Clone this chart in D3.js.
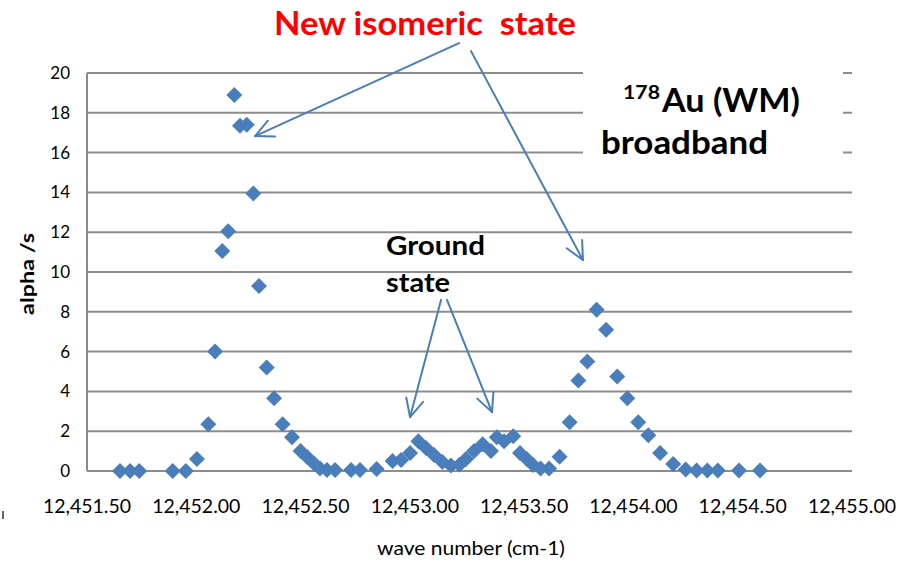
<!DOCTYPE html>
<html>
<head>
<meta charset="utf-8">
<script src="https://cdn.jsdelivr.net/npm/d3@7"></script>
<style>
  html, body { margin: 0; padding: 0; background: #fff; }
  svg { display: block; font-family: Lato, "Open Sans", sans-serif; }
  .keep { white-space: pre; }
</style>
</head>
<body>
<svg id="chart" width="900" height="561"></svg>
<script>
// Wave number scan of 178Au (cm-1) and measured alpha rate (alpha/s)
const waveNumbers = [
  12451.651, 12451.697, 12451.739, 12451.892, 12451.952, 12452.003, 12452.055, 12452.086,
  12452.119, 12452.146, 12452.174, 12452.200, 12452.231, 12452.261, 12452.287, 12452.322,
  12452.356, 12452.395, 12452.438, 12452.477, 12452.507, 12452.541, 12452.566, 12452.598,
  12452.635, 12452.708, 12452.749, 12452.825, 12452.898, 12452.937, 12452.978, 12453.016,
  12453.051, 12453.088, 12453.126, 12453.165, 12453.204, 12453.234, 12453.271, 12453.310,
  12453.348, 12453.375, 12453.408, 12453.450, 12453.481, 12453.512, 12453.541, 12453.575,
  12453.614, 12453.662, 12453.708, 12453.748, 12453.789, 12453.832, 12453.875, 12453.926,
  12453.972, 12454.022, 12454.068, 12454.122, 12454.182, 12454.239, 12454.289, 12454.338,
  12454.386, 12454.483, 12454.579
];
const alphaRates = [
  0.0, 0.0, 0.0, 0.0, 0.0, 0.6, 2.35, 6.0,
  11.05, 12.05, 18.9, 17.35, 17.4, 13.95, 9.3, 5.2,
  3.65, 2.35, 1.7, 1.0, 0.7, 0.35, 0.12, 0.05,
  0.05, 0.05, 0.05, 0.1, 0.5, 0.55, 0.9, 1.5,
  1.15, 0.8, 0.45, 0.28, 0.32, 0.6, 1.0, 1.35,
  1.0, 1.7, 1.5, 1.75, 0.9, 0.6, 0.3, 0.12,
  0.12, 0.72, 2.45, 4.55, 5.5, 8.1, 7.1, 4.75,
  3.65, 2.45, 1.8, 0.9, 0.35, 0.08, 0.03, 0.03,
  0.03, 0.03, 0.03
];
const xTicks = [12451.5, 12452.0, 12452.5, 12453.0, 12453.5, 12454.0, 12454.5, 12455.0];
const yTicks = [0, 2, 4, 6, 8, 10, 12, 14, 16, 18, 20];

// Annotation arrows, given in data units: [fromWave, fromRate, toWave, toRate]
const isomerArrows = [
  [12453.202, 21.5, 12452.269, 16.83],
  [12453.257, 21.1, 12453.769, 10.6]
];
const groundArrows = [
  [12453.120, 8.6, 12452.978, 2.71],
  [12453.147, 8.6, 12453.353, 2.96]
];

const svg = d3.select("#chart");
const x = d3.scaleLinear().domain([12451.5, 12455]).range([87, 852]);
const y = d3.scaleLinear().domain([0, 20]).range([471, 73]);

const gridColor = "#8c8c8c";
const markColor = "#4a7ebb";
const fmt = d3.format(",.2f");

// horizontal gridlines (the zero line doubles as the x axis)
svg.append("g")
  .selectAll("line")
  .data(yTicks)
  .join("line")
  .attr("x1", x.range()[0]).attr("x2", x.range()[1])
  .attr("y1", d => y(d)).attr("y2", d => y(d))
  .attr("stroke", gridColor).attr("stroke-width", 2);

// vertical axis line
svg.append("line")
  .attr("x1", x.range()[0]).attr("x2", x.range()[0])
  .attr("y1", y(0)).attr("y2", y(20))
  .attr("stroke", gridColor).attr("stroke-width", 2);

// y tick labels
svg.append("g")
  .selectAll("text")
  .data(yTicks)
  .join("text")
  .attr("x", 70).attr("y", d => y(d))
  .attr("dy", "0.35em")
  .attr("text-anchor", "end")
  .attr("font-size", 17)
  .attr("fill", "#000")
  .text(d => d);

// x tick labels
svg.append("g")
  .selectAll("text")
  .data(xTicks)
  .join("text")
  .attr("x", d => x(d)).attr("y", 513)
  .attr("text-anchor", "middle")
  .attr("font-size", 19.5)
  .attr("fill", "#000")
  .text(d => fmt(d));

// axis titles
svg.append("text")
  .attr("transform", "translate(34,274) rotate(-90)")
  .attr("text-anchor", "middle")
  .attr("font-size", 19).attr("font-weight", "bold")
  .attr("fill", "#000")
  .attr("textLength", 82).attr("lengthAdjust", "spacingAndGlyphs")
  .text("alpha /s");

svg.append("text")
  .attr("x", 471).attr("y", 555)
  .attr("text-anchor", "middle")
  .attr("font-size", 20)
  .attr("fill", "#000")
  .attr("textLength", 188).attr("lengthAdjust", "spacingAndGlyphs")
  .text("wave number (cm-1)");

// diamond markers
const half = 8;
const diamond = `M0,${-half}L${half},0L0,${half}L${-half},0Z`;
svg.append("g")
  .selectAll("path")
  .data(waveNumbers.map((w, i) => [w, alphaRates[i]]))
  .join("path")
  .attr("transform", d => `translate(${x(d[0])},${y(d[1])})`)
  .attr("d", diamond)
  .attr("fill", markColor);

// label box for the isotope
svg.append("rect")
  .attr("x", 583).attr("y", 60).attr("width", 260).attr("height", 108)
  .attr("fill", "#fff");

svg.append("text")
  .attr("x", 623).attr("y", 99)
  .attr("font-size", 19).attr("font-weight", "bold").attr("fill", "#000")
  .attr("textLength", 37).attr("lengthAdjust", "spacingAndGlyphs")
  .text("178");
svg.append("text")
  .attr("x", 662).attr("y", 112)
  .attr("font-size", 33).attr("font-weight", "bold").attr("fill", "#000")
  .attr("textLength", 138).attr("lengthAdjust", "spacingAndGlyphs")
  .text("Au (WM)");

svg.append("text")
  .attr("x", 601).attr("y", 154)
  .attr("font-size", 33).attr("font-weight", "bold").attr("fill", "#000")
  .attr("textLength", 167).attr("lengthAdjust", "spacingAndGlyphs")
  .text("broadband");

// headline
svg.append("text")
  .attr("class", "keep")
  .attr("x", 274).attr("y", 35)
  .attr("font-size", 33).attr("font-weight", "bold").attr("fill", "#ff0000")
  .attr("textLength", 302).attr("lengthAdjust", "spacingAndGlyphs")
  .text("New isomeric  state");

// ground-state label
svg.append("text")
  .attr("x", 386).attr("y", 255)
  .attr("font-size", 27).attr("font-weight", "bold").attr("fill", "#000")
  .attr("textLength", 99).attr("lengthAdjust", "spacingAndGlyphs")
  .text("Ground");
svg.append("text")
  .attr("x", 386).attr("y", 292)
  .attr("font-size", 27).attr("font-weight", "bold").attr("fill", "#000")
  .attr("textLength", 64).attr("lengthAdjust", "spacingAndGlyphs")
  .text("state");

// open-headed arrows
function drawArrow(g, a) {
  const x1 = x(a[0]), y1 = y(a[1]), x2 = x(a[2]), y2 = y(a[3]);
  const ang = Math.atan2(y2 - y1, x2 - x1);
  const len = 20, spread = 0.45;
  g.append("line")
    .attr("x1", x1).attr("y1", y1).attr("x2", x2).attr("y2", y2);
  [ang + Math.PI - spread, ang + Math.PI + spread].forEach(t => {
    g.append("line")
      .attr("x1", x2).attr("y1", y2)
      .attr("x2", x2 + len * Math.cos(t)).attr("y2", y2 + len * Math.sin(t));
  });
}
const arrows = svg.append("g")
  .attr("stroke", markColor).attr("stroke-width", 2).attr("stroke-linecap", "round");
isomerArrows.concat(groundArrows).forEach(a => drawArrow(arrows, a));

// small mark at the lower-left edge
svg.append("line")
  .attr("x1", 3).attr("x2", 3).attr("y1", 511).attr("y2", 519)
  .attr("stroke", "#333").attr("stroke-width", 1.5);
</script>
</body>
</html>
